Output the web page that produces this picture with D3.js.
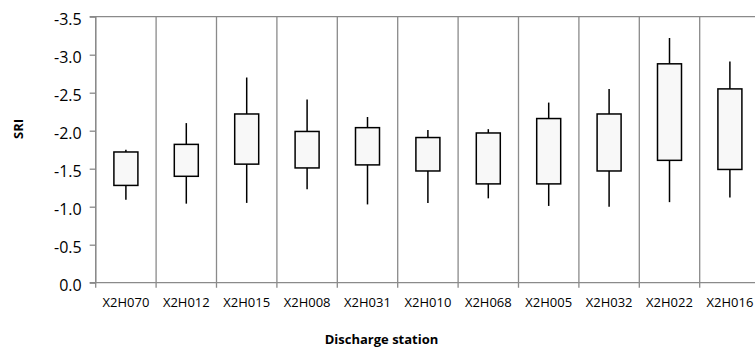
<!DOCTYPE html>
<html>
<head>
<meta charset="utf-8">
<script src="https://cdn.jsdelivr.net/npm/d3@7"></script>
<style>
  body { margin: 0; background: #fff; }
  svg { display: block; font-family: "Open Sans", "Liberation Sans", sans-serif; }
</style>
</head>
<body>
<svg id="chart"></svg>
<script>
"use strict";

const stations = ["X2H070", "X2H012", "X2H015", "X2H008", "X2H031", "X2H010",
                  "X2H068", "X2H005", "X2H032", "X2H022", "X2H016"];
const whiskerLow = [-1.09, -1.04, -1.05, -1.23, -1.03, -1.05, -1.11, -1.01, -1.00, -1.06, -1.12];
const boxLow     = [-1.28, -1.40, -1.56, -1.51, -1.55, -1.47, -1.30, -1.30, -1.47, -1.61, -1.49];
const boxHigh    = [-1.72, -1.82, -2.22, -1.99, -2.04, -1.91, -1.97, -2.16, -2.22, -2.88, -2.55];
const whiskerHigh= [-1.75, -2.10, -2.70, -2.41, -2.18, -2.01, -2.02, -2.37, -2.55, -3.22, -2.91];
const yTicks = [0, -0.5, -1.0, -1.5, -2.0, -2.5, -3.0, -3.5];

const width = 755;
const height = 351;
const plotLeft = 95.7;
const plotTop = 16.7;
const plotBottom = 282.7;
const bandW = 60.4;
const boxW = 24;

const data = stations.map((s, i) => ({
  station: s,
  wLow: whiskerLow[i],
  bLow: boxLow[i],
  bHigh: boxHigh[i],
  wHigh: whiskerHigh[i],
}));

const svg = d3.select("#chart").attr("width", width).attr("height", height);

const xScale = d3.scaleBand()
  .domain(stations)
  .range([plotLeft, plotLeft + bandW * stations.length])
  .padding(0);

const yScale = d3.scaleLinear()
  .domain([0, -3.5])
  .range([plotBottom, plotTop]);

const gridColor = "#8a8a8a";

// vertical gridlines at category boundaries (also the bottom tick marks)
const bounds = stations.map((s) => xScale(s)).concat([xScale.range()[1]]);
svg.append("g")
  .selectAll("line")
  .data(bounds)
  .enter()
  .append("line")
  .attr("x1", (d) => d)
  .attr("x2", (d) => d)
  .attr("y1", plotTop)
  .attr("y2", plotBottom + 5)
  .attr("stroke", gridColor)
  .attr("stroke-width", 1.3);

// top border
svg.append("line")
  .attr("x1", plotLeft)
  .attr("x2", width + 10)
  .attr("y1", plotTop)
  .attr("y2", plotTop)
  .attr("stroke", gridColor)
  .attr("stroke-width", 1.3);

// y axis
const yAxis = d3.axisLeft(yScale)
  .tickValues(yTicks)
  .tickFormat((d) => d.toFixed(1))
  .tickSize(6)
  .tickPadding(8);

const yG = svg.append("g")
  .attr("transform", `translate(${plotLeft},0)`)
  .call(yAxis);
yG.select(".domain").attr("stroke", gridColor).attr("stroke-width", 1.3)
  .attr("d", `M-6,${plotBottom}H0V${plotTop}H-6`);
yG.selectAll(".tick line").attr("stroke", gridColor).attr("stroke-width", 1.3);
yG.selectAll(".tick text")
  .attr("fill", "#000")
  .attr("dy", "0.5em")
  .style("font-size", "16px")
  .style("font-family", "'Open Sans', sans-serif");

// x axis
const xAxis = d3.axisBottom(xScale).tickSize(0).tickPadding(0);
const xG = svg.append("g")
  .attr("transform", `translate(0,${plotBottom})`)
  .call(xAxis);
xG.select(".domain").attr("stroke", gridColor).attr("stroke-width", 1.3)
  .attr("d", `M${plotLeft},0H${width + 10}`);
xG.selectAll(".tick text")
  .attr("fill", "#000")
  .attr("y", 24)
  .attr("dy", 0)
  .style("font-size", "13px")
  .style("font-family", "'Open Sans', sans-serif");

// whiskers
const cx = (d) => xScale(d.station) + xScale.bandwidth() / 2;
svg.append("g")
  .selectAll("line")
  .data(data)
  .enter()
  .append("line")
  .attr("x1", cx)
  .attr("x2", cx)
  .attr("y1", (d) => yScale(d.wLow))
  .attr("y2", (d) => yScale(d.wHigh))
  .attr("stroke", "#000")
  .attr("stroke-width", 1.5);

// boxes
svg.append("g")
  .selectAll("rect")
  .data(data)
  .enter()
  .append("rect")
  .attr("x", (d) => cx(d) - boxW / 2)
  .attr("y", (d) => yScale(d.bHigh))
  .attr("width", boxW)
  .attr("height", (d) => yScale(d.bLow) - yScale(d.bHigh))
  .attr("fill", "#f8f8f8")
  .attr("stroke", "#000")
  .attr("stroke-width", 1.5);

// axis titles
svg.append("text")
  .attr("transform", "translate(23,129) rotate(-90)")
  .attr("text-anchor", "middle")
  .style("font-size", "13px")
  .style("font-weight", "bold")
  .text("SRI");

svg.append("text")
  .attr("x", 381.5)
  .attr("y", 344)
  .attr("text-anchor", "middle")
  .style("font-size", "13px")
  .style("font-weight", "bold")
  .text("Discharge station");
</script>
</body>
</html>
